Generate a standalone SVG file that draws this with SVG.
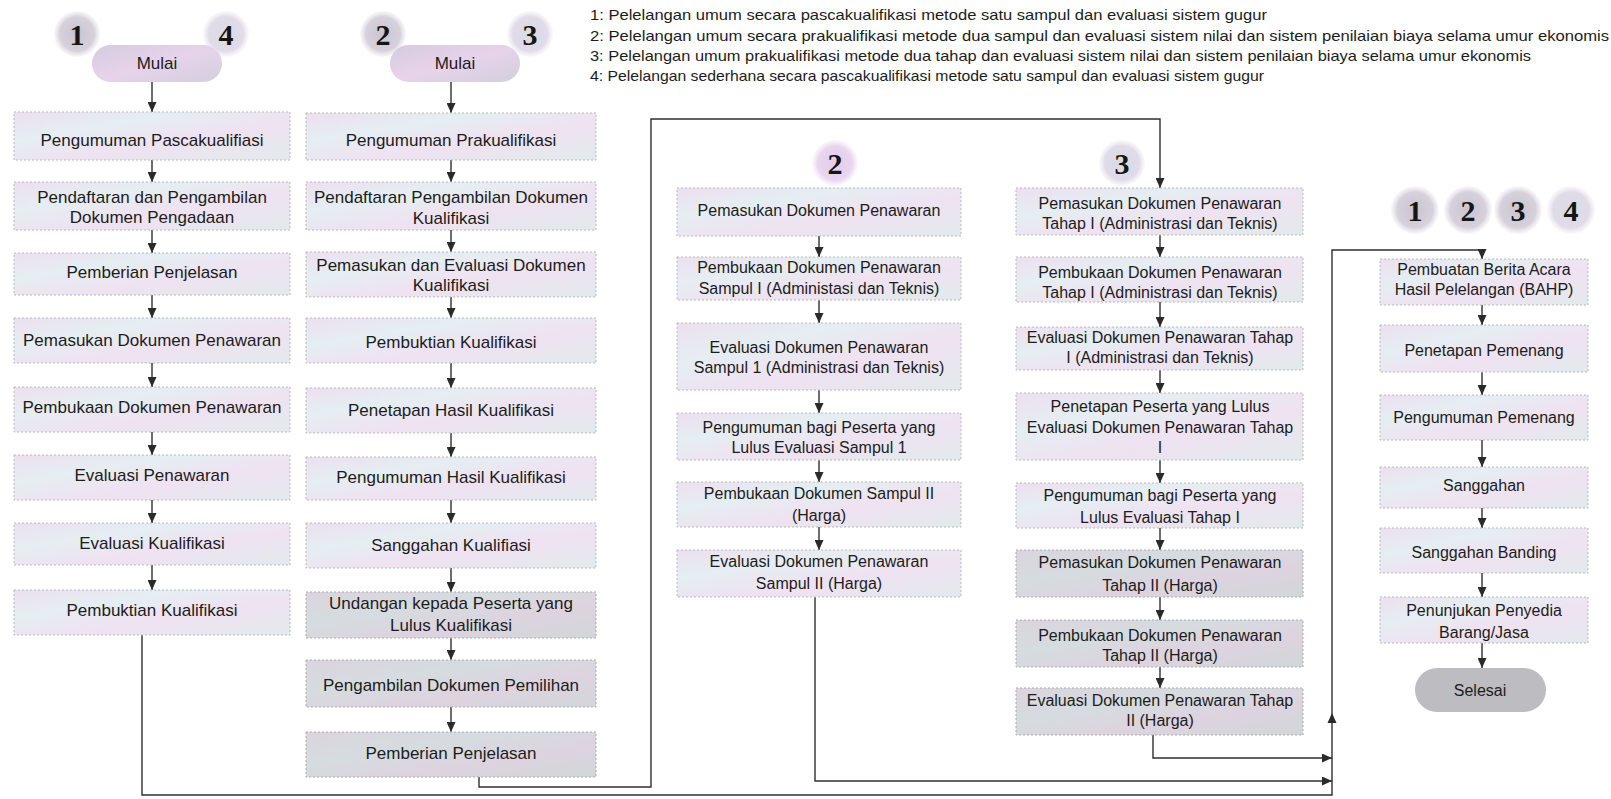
<svg xmlns="http://www.w3.org/2000/svg" width="1611" height="799" viewBox="0 0 1611 799">
<defs>
<linearGradient id="bg" x1="0" y1="0" x2="1" y2="1">
<stop offset="0" stop-color="#eddff0"/><stop offset="0.3" stop-color="#e5eef2"/><stop offset="0.6" stop-color="#efe2f1"/><stop offset="1" stop-color="#e2eaec"/>
</linearGradient>
<linearGradient id="bg2" x1="0" y1="0" x2="1" y2="1">
<stop offset="0" stop-color="#dbd4de"/><stop offset="0.35" stop-color="#d5dcdf"/><stop offset="0.65" stop-color="#ddd3df"/><stop offset="1" stop-color="#d1d7d9"/>
</linearGradient>
<linearGradient id="pill" x1="0" y1="0" x2="1" y2="1">
<stop offset="0" stop-color="#d6cbe0"/><stop offset="0.5" stop-color="#e6d3ea"/><stop offset="1" stop-color="#d2cfdc"/>
</linearGradient>
<radialGradient id="cg">
<stop offset="0" stop-color="#c9c4cf"/><stop offset="0.75" stop-color="#d6d1db"/><stop offset="1" stop-color="#e9e6ec" stop-opacity="0.3"/>
</radialGradient>
<radialGradient id="cp">
<stop offset="0" stop-color="#e4c9ec"/><stop offset="0.75" stop-color="#e9d6ef"/><stop offset="1" stop-color="#f3e8f5" stop-opacity="0.3"/>
</radialGradient>
<radialGradient id="cl">
<stop offset="0" stop-color="#d9dde2"/><stop offset="0.75" stop-color="#e0dbe8"/><stop offset="1" stop-color="#eee9f2" stop-opacity="0.3"/>
</radialGradient>
<marker id="ah" markerUnits="userSpaceOnUse" markerWidth="10" markerHeight="9" refX="10" refY="4.5" orient="auto">
<path d="M0,0 L10,4.5 L0,9 z" fill="#2a2a2a"/>
</marker>
<style>
.box{fill:url(#bg);stroke:#b9b9b9;stroke-width:1;stroke-dasharray:2 2}
.box2{fill:url(#bg2);stroke:#aaaaaa;stroke-width:1;stroke-dasharray:2 2}
.pl{fill:url(#pill)}
.t{font-family:"Liberation Sans",Arial,sans-serif;font-size:17px;fill:#1c1c1c;text-anchor:middle}
.r{font-family:"Liberation Sans",Arial,sans-serif;font-size:16px;fill:#1c1c1c;text-anchor:middle}
.lg{font-family:"Liberation Sans",Arial,sans-serif;font-size:14.5px;fill:#1c1c1c}
.n{font-family:"Liberation Serif","Times New Roman",serif;font-weight:bold;font-size:30px;fill:#151515;text-anchor:middle}
.ar{stroke:#2f2f2f;stroke-width:1.4;fill:none;marker-end:url(#ah)}
</style>
</defs>
<rect width="1611" height="799" fill="#ffffff"/>

<g id="legend">
<text class="lg" x="590" y="20" textLength="677" lengthAdjust="spacingAndGlyphs">1: Pelelangan umum secara pascakualifikasi metode satu sampul dan evaluasi sistem gugur</text>
<text class="lg" x="590" y="41" textLength="1019" lengthAdjust="spacingAndGlyphs">2: Pelelangan umum secara prakualifikasi metode dua sampul dan evaluasi sistem nilai dan sistem penilaian biaya selama umur ekonomis</text>
<text class="lg" x="590" y="61" textLength="941" lengthAdjust="spacingAndGlyphs">3: Pelelangan umum prakualifikasi metode dua tahap dan evaluasi sistem nilai dan sistem penilaian biaya selama umur ekonomis</text>
<text class="lg" x="590" y="81" textLength="674" lengthAdjust="spacingAndGlyphs">4: Pelelangan sederhana secara pascakualifikasi metode satu sampul dan evaluasi sistem gugur</text>
</g>

<g id="connectors">
<path class="ar" d="M152,82 V112"/>
<path class="ar" d="M152,160 V182"/>
<path class="ar" d="M152,230 V253"/>
<path class="ar" d="M152,295 V318"/>
<path class="ar" d="M152,363 V387"/>
<path class="ar" d="M152,432 V455"/>
<path class="ar" d="M152,500 V523"/>
<path class="ar" d="M152,565 V590"/>
<path class="ar" d="M451,82 V113"/>
<path class="ar" d="M451,160 V182"/>
<path class="ar" d="M451,230 V252"/>
<path class="ar" d="M451,297 V318"/>
<path class="ar" d="M451,363 V388"/>
<path class="ar" d="M451,433 V457"/>
<path class="ar" d="M451,500 V523"/>
<path class="ar" d="M451,568 V592"/>
<path class="ar" d="M451,638 V660"/>
<path class="ar" d="M451,707 V732"/>
<path class="ar" d="M819,236 V257"/>
<path class="ar" d="M819,300 V323"/>
<path class="ar" d="M819,390 V413"/>
<path class="ar" d="M819,460 V482"/>
<path class="ar" d="M819,527 V550"/>
<path class="ar" d="M1160,235 V257"/>
<path class="ar" d="M1160,302 V327"/>
<path class="ar" d="M1160,370 V393"/>
<path class="ar" d="M1160,460 V483"/>
<path class="ar" d="M1160,528 V550"/>
<path class="ar" d="M1160,597 V620"/>
<path class="ar" d="M1160,667 V688"/>
<path class="ar" d="M1482,305 V325"/>
<path class="ar" d="M1482,372 V395"/>
<path class="ar" d="M1482,440 V467"/>
<path class="ar" d="M1482,508 V528"/>
<path class="ar" d="M1482,573 V597"/>
<path class="ar" d="M1482,643 V668"/>
<path class="ar" d="M142,635 V795 H1332 V250 H1482 V259"/>
<path d="M1327.5,723 L1332,713 L1336.5,723 z" fill="#2a2a2a"/>
<path class="ar" d="M479,777 V787 H651 V119 H1160 V188"/>
<path class="ar" d="M815,597 V781 H1332"/>
<path class="ar" d="M1153,735 V758 H1332"/>
</g>

<g id="col1">
<g id="c1-num1"><circle cx="77" cy="34" r="23" fill="url(#cg)"/><text class="n" x="77" y="45">1</text></g>
<g id="c1-num4"><circle cx="226" cy="34" r="23" fill="url(#cl)"/><text class="n" x="226" y="45">4</text></g>
<g id="c1-mulai"><rect class="pl" x="92" y="45" width="130" height="37" rx="18.5"/><text class="t" x="157" y="69">Mulai</text></g>
<g id="c1-b1"><rect class="box" x="14" y="112" width="276" height="48"/><text class="t" x="152" y="146">Pengumuman Pascakualifiasi</text></g>
<g id="c1-b2"><rect class="box" x="14" y="182" width="276" height="48"/><text class="t" x="152" y="203">Pendaftaran dan Pengambilan</text><text class="t" x="152" y="223">Dokumen Pengadaan</text></g>
<g id="c1-b3"><rect class="box" x="14" y="253" width="276" height="42"/><text class="t" x="152" y="278">Pemberian Penjelasan</text></g>
<g id="c1-b4"><rect class="box" x="14" y="318" width="276" height="45"/><text class="t" x="152" y="346">Pemasukan Dokumen Penawaran</text></g>
<g id="c1-b5"><rect class="box" x="14" y="387" width="276" height="45"/><text class="t" x="152" y="413">Pembukaan Dokumen Penawaran</text></g>
<g id="c1-b6"><rect class="box" x="14" y="455" width="276" height="45"/><text class="t" x="152" y="481">Evaluasi Penawaran</text></g>
<g id="c1-b7"><rect class="box" x="14" y="523" width="276" height="42"/><text class="t" x="152" y="549">Evaluasi Kualifikasi</text></g>
<g id="c1-b8"><rect class="box" x="14" y="590" width="276" height="45"/><text class="t" x="152" y="616">Pembuktian Kualifikasi</text></g>
</g>

<g id="col2">
<g id="c2-num2"><circle cx="383" cy="34" r="23" fill="url(#cg)"/><text class="n" x="383" y="45">2</text></g>
<g id="c2-num3"><circle cx="530" cy="34" r="23" fill="url(#cl)"/><text class="n" x="530" y="45">3</text></g>
<g id="c2-mulai"><rect class="pl" x="390" y="45" width="130" height="37" rx="18.5"/><text class="t" x="455" y="69">Mulai</text></g>
<g id="c2-b1"><rect class="box" x="306" y="113" width="290" height="47"/><text class="t" x="451" y="146">Pengumuman Prakualifikasi</text></g>
<g id="c2-b2"><rect class="box" x="306" y="182" width="290" height="48"/><text class="t" x="451" y="203">Pendaftaran Pengambilan Dokumen</text><text class="t" x="451" y="224">Kualifikasi</text></g>
<g id="c2-b3"><rect class="box" x="306" y="252" width="290" height="45"/><text class="t" x="451" y="271">Pemasukan dan Evaluasi Dokumen</text><text class="t" x="451" y="291">Kualifikasi</text></g>
<g id="c2-b4"><rect class="box" x="306" y="318" width="290" height="45"/><text class="t" x="451" y="348">Pembuktian Kualifikasi</text></g>
<g id="c2-b5"><rect class="box" x="306" y="388" width="290" height="45"/><text class="t" x="451" y="416">Penetapan Hasil Kualifikasi</text></g>
<g id="c2-b6"><rect class="box" x="306" y="457" width="290" height="43"/><text class="t" x="451" y="483">Pengumuman Hasil Kualifikasi</text></g>
<g id="c2-b7"><rect class="box" x="306" y="523" width="290" height="45"/><text class="t" x="451" y="551">Sanggahan Kualifiasi</text></g>
<g id="c2-b8"><rect class="box2" x="306" y="592" width="290" height="46"/><text class="t" x="451" y="609">Undangan kepada Peserta yang</text><text class="t" x="451" y="631">Lulus Kualifikasi</text></g>
<g id="c2-b9"><rect class="box2" x="306" y="660" width="290" height="47"/><text class="t" x="451" y="691">Pengambilan Dokumen Pemilihan</text></g>
<g id="c2-b10"><rect class="box2" x="306" y="732" width="290" height="45"/><text class="t" x="451" y="759">Pemberian Penjelasan</text></g>
</g>

<g id="col3">
<g id="c3-num2"><circle cx="835" cy="163" r="23" fill="url(#cp)"/><text class="n" x="835" y="174">2</text></g>
<g id="c3-b1"><rect class="box" x="677" y="188" width="284" height="48"/><text class="r" x="819" y="216">Pemasukan Dokumen Penawaran</text></g>
<g id="c3-b2"><rect class="box" x="677" y="257" width="284" height="43"/><text class="r" x="819" y="273">Pembukaan Dokumen Penawaran</text><text class="r" x="819" y="294">Sampul I (Administasi dan Teknis)</text></g>
<g id="c3-b3"><rect class="box" x="677" y="323" width="284" height="67"/><text class="r" x="819" y="353">Evaluasi Dokumen Penawaran</text><text class="r" x="819" y="373">Sampul 1 (Administrasi dan Teknis)</text></g>
<g id="c3-b4"><rect class="box" x="677" y="413" width="284" height="47"/><text class="r" x="819" y="433">Pengumuman bagi Peserta yang</text><text class="r" x="819" y="453">Lulus Evaluasi Sampul 1</text></g>
<g id="c3-b5"><rect class="box" x="677" y="482" width="284" height="45"/><text class="r" x="819" y="499">Pembukaan Dokumen Sampul II</text><text class="r" x="819" y="521">(Harga)</text></g>
<g id="c3-b6"><rect class="box" x="677" y="550" width="284" height="47"/><text class="r" x="819" y="567">Evaluasi Dokumen Penawaran</text><text class="r" x="819" y="589">Sampul II (Harga)</text></g>
</g>

<g id="col4">
<g id="c4-num3"><circle cx="1122" cy="163" r="23" fill="url(#cl)"/><text class="n" x="1122" y="174">3</text></g>
<g id="c4-b1"><rect class="box" x="1016" y="188" width="287" height="47"/><text class="r" x="1160" y="209">Pemasukan Dokumen Penawaran</text><text class="r" x="1160" y="229">Tahap I (Administrasi dan Teknis)</text></g>
<g id="c4-b2"><rect class="box" x="1016" y="257" width="287" height="45"/><text class="r" x="1160" y="278">Pembukaan Dokumen Penawaran</text><text class="r" x="1160" y="298">Tahap I (Administrasi dan Teknis)</text></g>
<g id="c4-b3"><rect class="box" x="1016" y="327" width="287" height="43"/><text class="r" x="1160" y="343">Evaluasi Dokumen Penawaran Tahap</text><text class="r" x="1160" y="363">I (Administrasi dan Teknis)</text></g>
<g id="c4-b4"><rect class="box" x="1016" y="393" width="287" height="67"/><text class="r" x="1160" y="412">Penetapan Peserta yang Lulus</text><text class="r" x="1160" y="433">Evaluasi Dokumen Penawaran Tahap</text><text class="r" x="1160" y="453">I</text></g>
<g id="c4-b5"><rect class="box" x="1016" y="483" width="287" height="45"/><text class="r" x="1160" y="501">Pengumuman bagi Peserta yang</text><text class="r" x="1160" y="523">Lulus Evaluasi Tahap I</text></g>
<g id="c4-b6"><rect class="box2" x="1016" y="550" width="287" height="47"/><text class="r" x="1160" y="568">Pemasukan Dokumen Penawaran</text><text class="r" x="1160" y="591">Tahap II (Harga)</text></g>
<g id="c4-b7"><rect class="box2" x="1016" y="620" width="287" height="47"/><text class="r" x="1160" y="641">Pembukaan Dokumen Penawaran</text><text class="r" x="1160" y="661">Tahap II (Harga)</text></g>
<g id="c4-b8"><rect class="box2" x="1016" y="688" width="287" height="47"/><text class="r" x="1160" y="706">Evaluasi Dokumen Penawaran Tahap</text><text class="r" x="1160" y="726">II (Harga)</text></g>
</g>

<g id="col5">
<g id="c5-num1"><circle cx="1415" cy="210" r="24" fill="url(#cg)"/><text class="n" x="1415" y="221">1</text></g>
<g id="c5-num2"><circle cx="1468" cy="210" r="24" fill="url(#cg)"/><text class="n" x="1468" y="221">2</text></g>
<g id="c5-num3"><circle cx="1518" cy="210" r="24" fill="url(#cg)"/><text class="n" x="1518" y="221">3</text></g>
<g id="c5-num4"><circle cx="1571" cy="210" r="24" fill="url(#cl)"/><text class="n" x="1571" y="221">4</text></g>
<g id="c5-b1"><rect class="box" x="1380" y="259" width="208" height="46"/><text class="r" x="1484" y="275">Pembuatan Berita Acara</text><text class="r" x="1484" y="295">Hasil Pelelangan (BAHP)</text></g>
<g id="c5-b2"><rect class="box" x="1380" y="325" width="208" height="47"/><text class="r" x="1484" y="356">Penetapan Pemenang</text></g>
<g id="c5-b3"><rect class="box" x="1380" y="395" width="208" height="45"/><text class="r" x="1484" y="423">Pengumuman Pemenang</text></g>
<g id="c5-b4"><rect class="box" x="1380" y="467" width="208" height="41"/><text class="r" x="1484" y="491">Sanggahan</text></g>
<g id="c5-b5"><rect class="box" x="1380" y="528" width="208" height="45"/><text class="r" x="1484" y="558">Sanggahan Banding</text></g>
<g id="c5-b6"><rect class="box" x="1380" y="597" width="208" height="46"/><text class="r" x="1484" y="616">Penunjukan Penyedia</text><text class="r" x="1484" y="638">Barang/Jasa</text></g>
<g id="c5-selesai"><rect x="1415" y="668" width="131" height="44" rx="22" fill="#bdbcc0"/><text class="r" x="1480" y="696">Selesai</text></g>
</g>
</svg>
